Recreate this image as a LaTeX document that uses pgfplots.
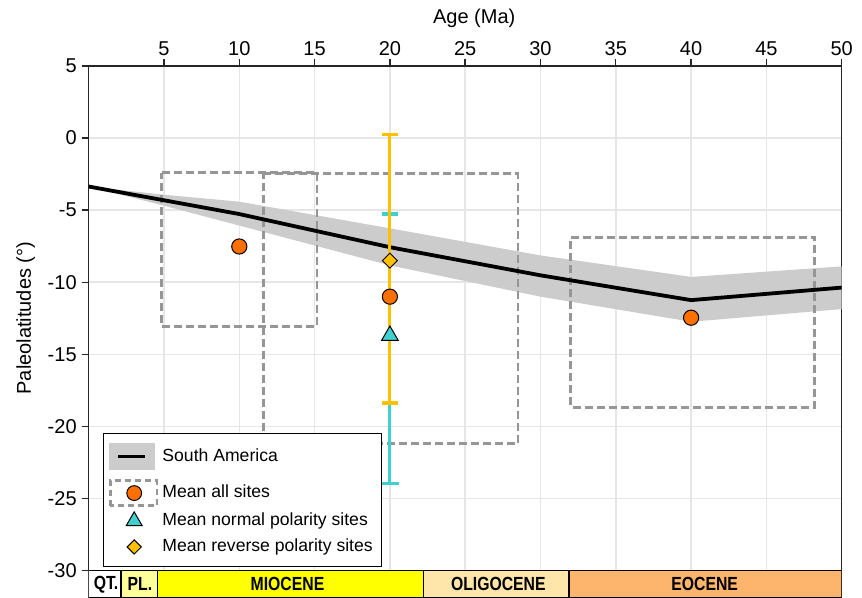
\documentclass[border=0pt]{standalone}
\usepackage{fontspec}
\setmainfont{Liberation Sans}
\usepackage{graphicx}
\usepackage{pgfplots}
\pgfplotsset{compat=1.18}
\definecolor{bandgray}{RGB}{204,204,204}
\definecolor{boxgray}{RGB}{150,150,150}
\definecolor{orangec}{RGB}{255,112,0}
\definecolor{cyanc}{RGB}{64,208,208}
\definecolor{goldc}{RGB}{255,192,0}
\definecolor{plc}{RGB}{255,255,153}
\definecolor{mioc}{RGB}{255,255,0}
\definecolor{oligc}{RGB}{254,230,170}
\definecolor{eoc}{RGB}{253,180,108}
\definecolor{gridc}{RGB}{230,230,230}
\newcommand{\ep}[1]{\scalebox{0.83}[1]{\fontsize{9.5}{11}\selectfont\bfseries #1}}
\begin{document}
\begin{tikzpicture}
\useasboundingbox (-44.35pt,0pt) rectangle (386.65pt,299pt);
\begin{axis}[
  at={(0pt,0pt)}, anchor=south west,
  scale only axis, width=376.5pt, height=266pt,
  xmin=0, xmax=50, ymin=-31.9, ymax=5,
  axis line style={draw=black!85, line width=0.7pt},
  xtick={5,10,...,50}, xticklabels={5,10,15,20,25,30,35,40,45,50},
  ytick={-30,-25,...,5}, yticklabels={-30,-25,-20,-15,-10,-5,0,5},
  xtick pos=right, xticklabel pos=right,
  ytick pos=left, yticklabel pos=left,
  tick align=outside, major tick length=3.5pt,
  tick style={draw=black!85, line width=0.7pt},
  grid=major, major grid style={draw=gridc, line width=0.75pt},
  tick label style={font=\fontsize{10}{12}\selectfont},
  xticklabel style={yshift=-1.8pt},
  yticklabel style={xshift=1pt},
  label style={font=\fontsize{10}{12}\selectfont},
  xlabel={Age (Ma)},
  xlabel style={at={(rel axis cs:0.512,1)}, anchor=center, yshift=23.75pt},
  ylabel={Paleolatitudes (°)},
  ylabel style={at={(rel axis cs:0,0.526)}, anchor=center, yshift=31.5pt},
  legend style={at={(rel axis cs:0.019,0.31)}, anchor=north west,
    draw=black, fill=white, line width=0.6pt, inner xsep=2.5pt, inner ysep=4.7pt,
    row sep=2.5pt, font=\fontsize{8.8}{10}\selectfont, nodes={inner ysep=0.5pt}},
  legend cell align=left,
]
% timescale bar
\addplot[forget plot, draw=black, line width=0.8pt, fill=white] coordinates {(0,-30) (2.13,-30) (2.13,-31.9) (0,-31.9) (0,-30)};
\addplot[forget plot, draw=black, line width=0.8pt, fill=plc] coordinates {(2.13,-30) (4.58,-30) (4.58,-31.9) (2.13,-31.9) (2.13,-30)};
\addplot[forget plot, draw=black, line width=0.8pt, fill=mioc] coordinates {(4.58,-30) (22.23,-30) (22.23,-31.9) (4.58,-31.9) (4.58,-30)};
\addplot[forget plot, draw=black, line width=0.8pt, fill=oligc] coordinates {(22.23,-30) (31.9,-30) (31.9,-31.9) (22.23,-31.9) (22.23,-30)};
\addplot[forget plot, draw=black, line width=0.8pt, fill=eoc] coordinates {(31.9,-30) (50,-30) (50,-31.9) (31.9,-31.9) (31.9,-30)};
\node at (axis cs:1.15,-30.95) {\ep{QT.}};
\node at (axis cs:3.4,-30.95) {\ep{PL.}};
\node at (axis cs:13.2,-30.95) {\ep{MIOCENE}};
\node at (axis cs:27.2,-30.95) {\ep{OLIGOCENE}};
\node at (axis cs:40.9,-30.95) {\ep{EOCENE}};
% band
\addplot[forget plot, draw=none, fill=bandgray] coordinates {
 (0,-3.36) (5,-3.93) (10,-4.41) (20,-6.26) (30,-8.14) (40,-9.63) (50,-8.9)
 (50,-11.86) (40,-12.74) (30,-11.0) (20,-8.83) (10,-6.07) (5,-4.69) (0,-3.36)};
% dashed boxes
\addplot[forget plot, draw=boxgray, line width=1.3pt, dash pattern=on 4pt off 2pt] coordinates {(4.85,-2.39) (15.15,-2.39) (15.15,-13.07) (4.85,-13.07) (4.85,-2.39)};
\addplot[forget plot, draw=boxgray, line width=1.3pt, dash pattern=on 4pt off 2pt] coordinates {(11.6,-2.45) (28.5,-2.45) (28.5,-21.2) (11.6,-21.2) (11.6,-2.45)};
\addplot[forget plot, draw=boxgray, line width=1.3pt, dash pattern=on 4pt off 2pt] coordinates {(32.0,-6.88) (48.2,-6.88) (48.2,-18.67) (32.0,-18.67) (32.0,-6.88)};
% South America line
\addplot[forget plot, draw=black, line width=1.9pt] coordinates {(0,-3.36) (10,-5.27) (20,-7.57) (30,-9.52) (40,-11.24) (50,-10.37)};
% error bars: normal (cyan)
\addplot[forget plot, draw=cyanc, line width=1.6pt] coordinates {(20,-5.27) (20,-23.96)};
\addplot[forget plot, draw=cyanc, line width=1.6pt] coordinates {(19.47,-5.27) (20.53,-5.27)};
\addplot[forget plot, draw=cyanc, line width=1.6pt] coordinates {(19.45,-23.96) (20.6,-23.96)};
% error bars: reverse (gold)
\addplot[forget plot, draw=goldc, line width=1.6pt] coordinates {(20,0.25) (20,-18.37)};
\addplot[forget plot, draw=goldc, line width=1.6pt] coordinates {(19.47,0.25) (20.53,0.25)};
\addplot[forget plot, draw=goldc, line width=1.6pt] coordinates {(19.47,-18.37) (20.53,-18.37)};
% markers
\addplot[forget plot, only marks, mark=*, mark size=3.8pt, mark options={fill=orangec, draw=black, line width=0.5pt}] coordinates {(10,-7.52) (20,-11.0) (40,-12.46)};
\addplot[forget plot, only marks, mark=triangle*, mark size=4.8pt, mark options={fill=cyanc, draw=black, line width=0.5pt}] coordinates {(20,-13.7)};
\addplot[forget plot, only marks, mark=square*, mark size=2.65pt, mark options={rotate=45, fill=goldc, draw=black, line width=0.5pt}] coordinates {(20,-8.5)};
% legend
\addlegendimage{legend image code/.code={
  \fill[bandgray] (0pt,-6.5pt) rectangle (22.5pt,6.5pt);
  \draw[black, line width=1.5pt] (4.5pt,0pt) -- (18pt,0pt);}}
\addlegendentry{South America}
\addlegendimage{legend image code/.code={
  \path[draw=none, fill=none] (0pt,8.9pt) -- (0pt,-6.9pt);
  \draw[boxgray, line width=1.25pt, dash pattern=on 3pt off 2pt] (0.6pt,-6.25pt) rectangle (24pt,6.25pt);
  \fill[orangec, draw=black, line width=0.5pt] (12.5pt,0pt) circle (3.7pt);}}
\addlegendentry{Mean all sites}
\addlegendimage{legend image code/.code={
  \draw plot[only marks, mark=triangle*, mark size=4.6pt, mark options={fill=cyanc, draw=black, line width=0.5pt}] coordinates {(12.5pt,0pt)};}}
\addlegendentry{Mean normal polarity sites}
\addlegendimage{legend image code/.code={
  \path[draw=none, fill=none] (0pt,6pt) -- (0pt,-5.2pt);
  \draw plot[only marks, mark=square*, mark size=2.5pt, mark options={rotate=45, fill=goldc, draw=black, line width=0.5pt}] coordinates {(12.5pt,0pt)};}}
\addlegendentry{Mean reverse polarity sites}
\end{axis}
\end{tikzpicture}
\end{document}
